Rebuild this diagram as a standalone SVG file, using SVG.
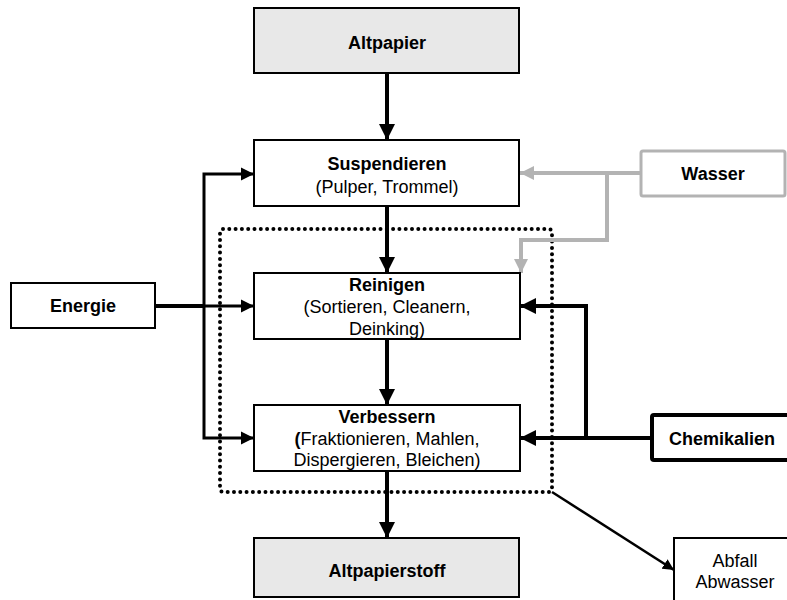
<svg xmlns="http://www.w3.org/2000/svg" width="787" height="600" viewBox="0 0 787 600">
  <style>
    .box { fill: #ffffff; stroke: #000000; stroke-width: 2; }
    .grey { fill: #e8e8e8; }
    .b { font-family: "Liberation Sans", Arial, sans-serif; font-size: 18px; font-weight: bold; text-anchor: middle; fill: #000; }
    .r { font-family: "Liberation Sans", Arial, sans-serif; font-size: 18px; text-anchor: middle; fill: #000; }
    .flow { fill: none; stroke: #000; stroke-width: 4; }
    .thin { fill: none; stroke: #000; stroke-width: 3; }
    .water { fill: none; stroke: #b3b3b3; stroke-width: 4; }
  </style>
  <defs>
    <marker id="ah" viewBox="0 0 10 10" refX="10" refY="5" markerWidth="4" markerHeight="4" markerUnits="strokeWidth" orient="auto">
      <path d="M0,0 L10,5 L0,10 Z" fill="#000"/>
    </marker>
    <marker id="ahs" viewBox="0 0 10 10" refX="10" refY="5" markerWidth="4.5" markerHeight="4.5" markerUnits="strokeWidth" orient="auto">
      <path d="M0,0 L10,5 L0,10 Z" fill="#000"/>
    </marker>
    <marker id="ahg" viewBox="0 0 10 10" refX="10" refY="5" markerWidth="3.5" markerHeight="3.5" markerUnits="strokeWidth" orient="auto">
      <path d="M0,0 L10,5 L0,10 Z" fill="#b3b3b3"/>
    </marker>
  </defs>

  <!-- dotted boundary around cleaning and refining stages -->
  <rect id="boundary" x="220" y="229" width="332" height="263" rx="3" fill="none" stroke="#000" stroke-width="4" stroke-dasharray="0 6.3" stroke-linecap="round"/>

  <g id="connectors">
    <!-- main process chain -->
    <line class="flow" x1="387" y1="73" x2="387" y2="140" marker-end="url(#ah)"/>
    <line class="flow" x1="387" y1="206" x2="387" y2="273" marker-end="url(#ah)"/>
    <line class="flow" x1="387" y1="339" x2="387" y2="405" marker-end="url(#ah)"/>
    <line class="flow" x1="387" y1="471" x2="387" y2="538" marker-end="url(#ah)"/>
    <!-- energy supply -->
    <line class="flow" x1="155" y1="306" x2="205" y2="306"/>
    <line class="thin" x1="204" y1="306" x2="254" y2="306" marker-end="url(#ahs)"/>
    <polyline class="thin" points="204,306 204,174 254,174" marker-end="url(#ahs)"/>
    <polyline class="thin" points="204,306 204,438 254,438" marker-end="url(#ahs)"/>
    <!-- water supply -->
    <line class="water" x1="640" y1="173" x2="520" y2="173" marker-end="url(#ahg)"/>
    <polyline class="water" points="607,173 607,240 521,240 521,273" marker-end="url(#ahg)"/>
    <!-- chemicals -->
    <line class="flow" x1="652" y1="438" x2="520" y2="438" stroke-width="5" marker-end="url(#ah)"/>
    <polyline class="flow" points="586,438 586,306 520,306" marker-end="url(#ah)"/>
    <!-- waste output -->
    <line x1="552" y1="492" x2="674" y2="570" stroke="#000" stroke-width="2.5" marker-end="url(#ahs)"/>
  </g>

  <g id="altpapier">
    <rect class="box grey" x="254" y="8" width="265" height="65"/>
    <text class="b" x="387" y="49">Altpapier</text>
  </g>

  <g id="suspendieren">
    <rect class="box" x="254" y="140" width="265" height="66"/>
    <text class="b" x="387" y="170">Suspendieren</text>
    <text class="r" x="387" y="193">(Pulper, Trommel)</text>
  </g>

  <g id="reinigen">
    <rect class="box" x="254" y="273" width="266" height="66"/>
    <text class="b" x="387" y="291">Reinigen</text>
    <text class="r" x="387" y="313">(Sortieren, Cleanern,</text>
    <text class="r" x="387" y="335">Deinking)</text>
  </g>

  <g id="verbessern">
    <rect class="box" x="254" y="405" width="266" height="66"/>
    <text class="b" x="387" y="423">Verbessern</text>
    <text class="r" x="387" y="445"><tspan font-weight="bold">(</tspan>Fraktionieren, Mahlen,</text>
    <text class="r" x="387" y="466">Dispergieren, Bleichen)</text>
  </g>

  <g id="altpapierstoff">
    <rect class="box grey" x="254" y="538" width="265" height="59"/>
    <text class="b" x="387" y="577">Altpapierstoff</text>
  </g>

  <g id="energie">
    <rect class="box" x="11" y="283" width="144" height="45"/>
    <text class="b" x="83" y="312">Energie</text>
  </g>

  <g id="wasser">
    <rect x="641" y="151" width="144" height="45" rx="2" fill="#fff" stroke="#b3b3b3" stroke-width="3"/>
    <text class="b" x="713" y="180">Wasser</text>
  </g>

  <g id="chemikalien">
    <rect x="652" y="415" width="140" height="45" rx="2" fill="#fff" stroke="#000" stroke-width="4"/>
    <text class="b" x="722" y="445">Chemikalien</text>
  </g>

  <g id="abfall">
    <rect class="box" x="674" y="538" width="120" height="70"/>
    <text class="r" x="735" y="567">Abfall</text>
    <text class="r" x="735" y="588">Abwasser</text>
  </g>
</svg>
